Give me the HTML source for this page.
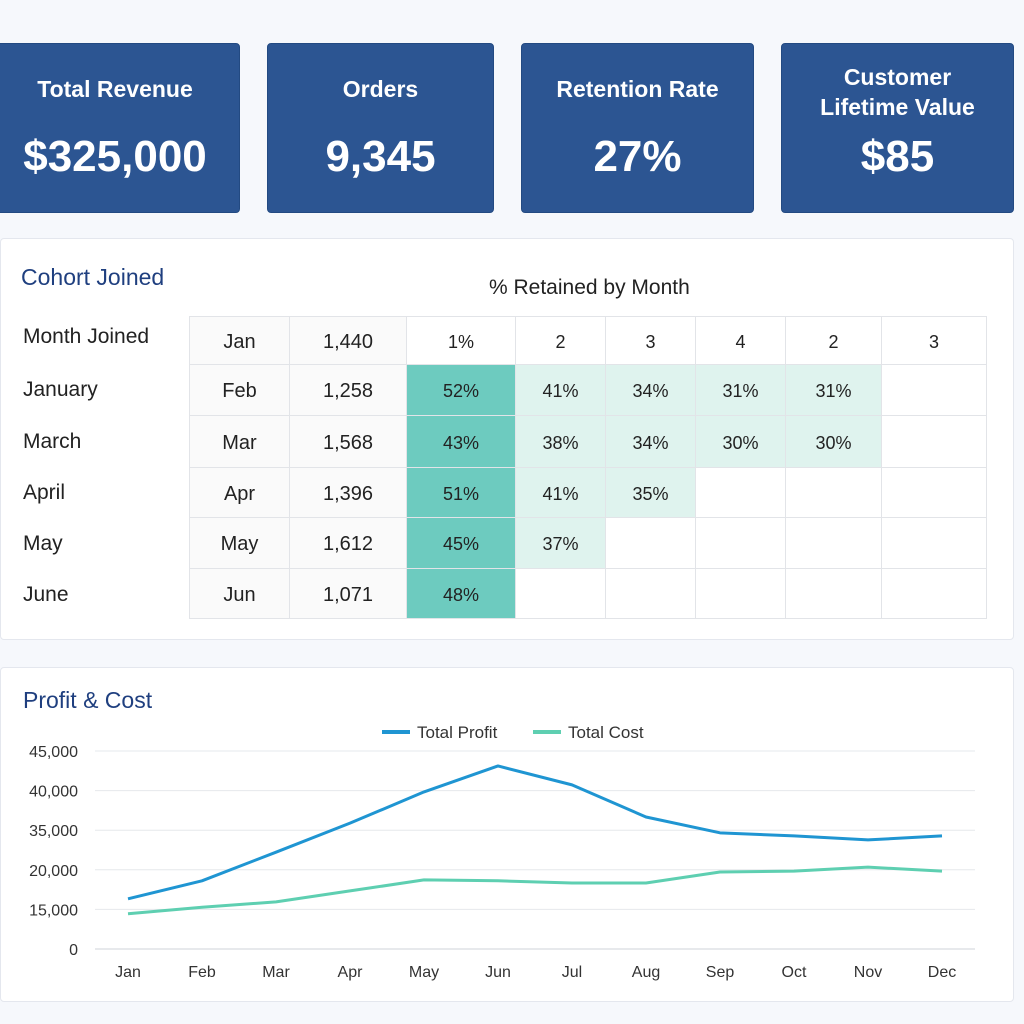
<!DOCTYPE html>
<html><head><meta charset="utf-8"><style>
body{margin:0;width:1024px;height:1024px;background:#f6f8fc;font-family:"Liberation Sans",sans-serif;position:relative;overflow:hidden}
.kpi{position:absolute;top:43px;height:168px;background:#2c5592;border:1px solid #234a82;border-radius:4px;color:#fff;text-align:center}
.kpi .t{position:absolute;left:0;right:0;font-size:23px;font-weight:bold}
.kpi .v{position:absolute;left:0;right:0;top:88px;font-size:44px;font-weight:bold}
.panel{position:absolute;left:0;width:1012px;background:#fff;border:1px solid #e4e7ee;border-radius:4px}
.h{position:absolute;color:#1f3f7f;font-size:23px}
table{position:absolute;border-collapse:collapse;font-size:20px;color:#222;table-layout:fixed;width:797px}
td{border:1px solid #e2e4e8;text-align:center;padding:0;box-sizing:border-box}
.lab{position:absolute;left:22px;font-size:21px;color:#222}
</style></head><body>
<div class="kpi" style="left:-10px;width:248px"><div class="t" style="top:32px">Total Revenue</div><div class="v">$325,000</div></div>
<div class="kpi" style="left:267px;width:225px"><div class="t" style="top:32px">Orders</div><div class="v">9,345</div></div>
<div class="kpi" style="left:521px;width:231px"><div class="t" style="top:32px">Retention Rate</div><div class="v">27%</div></div>
<div class="kpi" style="left:781px;width:231px"><div class="t" style="top:18px;line-height:30px">Customer<br>Lifetime Value</div><div class="v">$85</div></div>

<div class="panel" style="top:238px;height:400px">
<div class="h" style="left:20px;top:25px">Cohort Joined</div>
<div style="position:absolute;left:488px;top:37px;font-size:21px;color:#222">% Retained by Month</div>
<div class="lab" style="top:86px">Month Joined</div>
<div class="lab" style="top:139px">January</div>
<div class="lab" style="top:191px">March</div>
<div class="lab" style="top:242px">April</div>
<div class="lab" style="top:293px">May</div>
<div class="lab" style="top:344px">June</div>
<table id="tbl" style="left:188px;top:77px"></table>
</div>

<div class="panel" style="top:667px;height:333px">
<div class="h" style="left:22px;top:19px">Profit &amp; Cost</div>
</div>
<svg id="chart" width="1024" height="1024" style="position:absolute;left:0;top:0"></svg>
<script>
const cohortMonths=["Jan","Feb","Mar","Apr","May","Jun"];
const cohortSizes=["1,440","1,258","1,568","1,396","1,612","1,071"];
const headerCols=["1%","2","3","4","2","3"];
const retention=[[52,41,34,31,31],[43,38,34,30,30],[51,41,35],[45,37],[48]];
const colW=[100,117,109,90,90,90,96,105];
const rowH=[48,51,52,50,51,50];
const tbl=document.getElementById('tbl');
const cg=document.createElement('colgroup');
colW.forEach(w=>{const c=document.createElement('col');c.style.width=w+'px';cg.appendChild(c);});
tbl.appendChild(cg);
for(let r=0;r<6;r++){
  const tr=document.createElement('tr');
  tr.style.height=rowH[r]+'px';
  const cells=[cohortMonths[r],cohortSizes[r]];
  for(let c=0;c<8;c++){
    const td=document.createElement('td');
    
    
    td.style.paddingTop='3px';
    if(c<2){td.textContent=cells[c];td.style.background='#fafafa';}
    else if(r==0){td.textContent=headerCols[c-2]||'';td.style.fontSize='18px';}
    else{const v=retention[r-1][c-2];if(v!==undefined){td.textContent=v+'%';td.style.fontSize='18px';td.style.background=c==2?'#6dcbbf':'#dff3ee';}}
    tr.appendChild(td);
  }
  tbl.appendChild(tr);
}
const months=["Jan","Feb","Mar","Apr","May","Jun","Jul","Aug","Sep","Oct","Nov","Dec"];
const profit=[11400,15500,22000,28600,35700,41600,37300,30000,26400,25700,24800,25700];
const cost=[8000,9500,10700,13200,15700,15500,15000,15000,17500,17700,18600,17700];
const tickValues=[0,9000,18000,27000,36000,45000];
const tickLabels=["0","15,000","20,000","35,000","40,000","45,000"];
const svg=document.getElementById('chart');const NS='http://www.w3.org/2000/svg';
const X=i=>128+i*74, Y=v=>949-v/45000*198;
function mk(t,a){const e=document.createElementNS(NS,t);for(const k in a)e.setAttribute(k,a[k]);svg.appendChild(e);return e;}
tickValues.forEach((v,i)=>{
  const l=mk('line',{x1:95,x2:975,y1:Y(v),y2:Y(v),stroke:i==0?'#cfd3da':'#e6e8ec'});
  
  
  const t=mk('text',{x:78,y:Y(v)+6,'text-anchor':'end','font-size':16,fill:'#333','font-family':'Liberation Sans'});
  t.textContent=tickLabels[i];
  
  
});
months.forEach((m,i)=>{const t=mk('text',{x:X(i),y:977,'text-anchor':'middle','font-size':16,fill:'#333','font-family':'Liberation Sans'});t.textContent=m;
  
  });
function line(d,c,n){const p=mk('polyline',{points:d.map((v,i)=>X(i)+','+Y(v)).join(' '),fill:'none',stroke:c,'stroke-width':3,'stroke-linejoin':'round'});
  
  }
line(cost,'#5ecfb1','line-total-cost');
line(profit,'#1f95d2','line-total-profit');
[[382,'#1f95d2','Total Profit','legend-total-profit'],[533,'#5ecfb1','Total Cost','legend-total-cost']].forEach(a=>{
  const g=mk('g',{});
  const l=document.createElementNS(NS,'line');l.setAttribute('x1',a[0]);l.setAttribute('x2',a[0]+28);l.setAttribute('y1',732);l.setAttribute('y2',732);l.setAttribute('stroke',a[1]);l.setAttribute('stroke-width',4);g.appendChild(l);
  const t=document.createElementNS(NS,'text');t.setAttribute('x',a[0]+35);t.setAttribute('y',738);t.setAttribute('font-size',17);t.setAttribute('fill','#333');t.setAttribute('font-family','Liberation Sans');t.textContent=a[2];g.appendChild(t);
});
</script>
</body></html>
